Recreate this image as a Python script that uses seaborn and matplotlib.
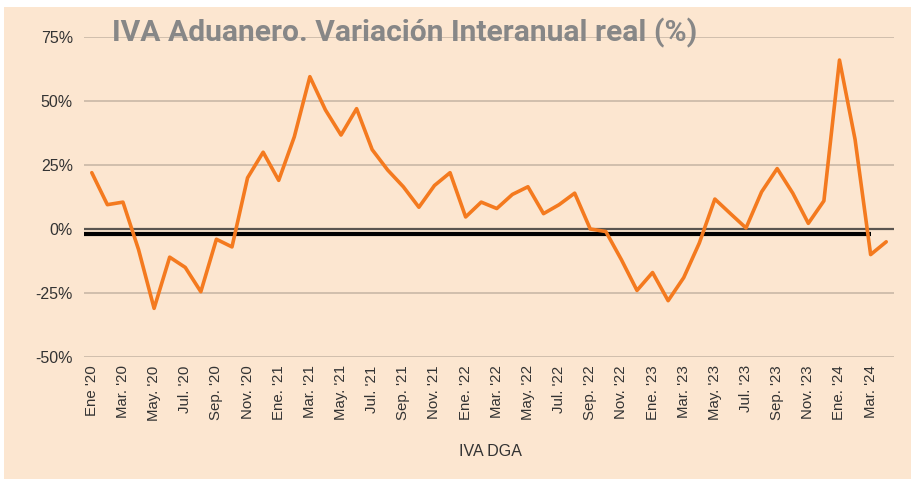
import numpy as np
import pandas as pd
import matplotlib
matplotlib.use("Agg")
import matplotlib.pyplot as plt
import seaborn as sns
from matplotlib.patches import Rectangle

# etiquetas de meses (una cada dos en el eje)
meses_nombre = ["Ene", "Feb", "Mar", "Abr", "May", "Jun",
                "Jul", "Ago", "Sep", "Oct", "Nov", "Dic"]
anios = ["'20", "'21", "'22", "'23", "'24"]

# variacion interanual real (%), Ene '20 a Abr '24
iva_dga = [22, 9.5, 10.5, -8, -31, -11, -15, -24.5, -4, -7, 20, 30,
           19, 36, 59.5, 46.5, 36.7, 47, 31, 23, 16.5, 8.5, 17, 22,
           4.7, 10.5, 8, 13.5, 16.5, 6, 9.5, 14, 0, -1, -12, -24,
           -17, -28, -19, -5.5, 11.7, 6, 0.4, 14.5, 23.6, 14, 2.2, 11,
           66, 35, -10, -5]

linea_ref = -1.8

etiquetas = []
for a in anios:
    for mname in meses_nombre:
        etiquetas.append(mname + ". " + a)
etiquetas = etiquetas[:len(iva_dga)]
etiquetas[0] = "Ene '20"

df = pd.DataFrame({"pos": np.arange(len(iva_dga)), "valor": iva_dga})

sns.set_style("white")
plt.rcParams["font.family"] = ["Liberation Sans", "DejaVu Sans"]

beige = "#fce6d0"
fig = plt.figure(figsize=(9.11, 4.79), dpi=100, facecolor="white")
fig.patches.append(Rectangle((4 / 911, 0), 1, 1 - 7 / 479, transform=fig.transFigure,
                             facecolor=beige, edgecolor="none", zorder=-10))
ax = fig.add_axes([84 / 911, 1 - 357 / 479, (894 - 84) / 911, (357 - 37) / 479])
ax.set_facecolor(beige)

sns.lineplot(data=df, x="pos", y="valor", ax=ax, color="#f47a1f", linewidth=2.6,
             solid_joinstyle="round", zorder=4)

ax.set_ylim(-50, 75)
ax.set_xlim(-0.5, len(iva_dga) - 0.5)
ax.set_yticks([-50, -25, 0, 25, 50, 75])
ax.set_yticklabels([f"{v}%" for v in [-50, -25, 0, 25, 50, 75]])
for v in [-50, -25, 25, 50, 75]:
    ax.axhline(v, color="#c9b8a6", linewidth=1.2, zorder=1)
ax.axhline(0, color="#5a5550", linewidth=1.6, zorder=2)
ax.hlines(linea_ref, -0.5, len(iva_dga) - 2, color="black", linewidth=3, zorder=3)

ax.set_xticks(df["pos"][::2])
ax.set_xticklabels(etiquetas[::2], rotation=90, fontsize=10.8, color="#333333")
ax.tick_params(axis="y", labelsize=11.5, labelcolor="#333333", length=0, pad=8)
ax.tick_params(axis="x", length=0, pad=6)
for s in ax.spines.values():
    s.set_visible(False)
ax.set_xlabel("")
ax.set_ylabel("")

fig.text(405 / 911, 1 - 33 / 479, "IVA Aduanero. Variación Interanual real (%)",
         ha="center", va="center", fontsize=21.6, fontweight="bold", color="#878787",
         family=["Roboto", "DejaVu Sans"], zorder=10)
fig.text(490 / 911, 1 - 452 / 479, "IVA DGA", ha="center", va="center",
         fontsize=11.5, color="#333333")

fig.savefig("out.png", dpi=100, facecolor="white")
